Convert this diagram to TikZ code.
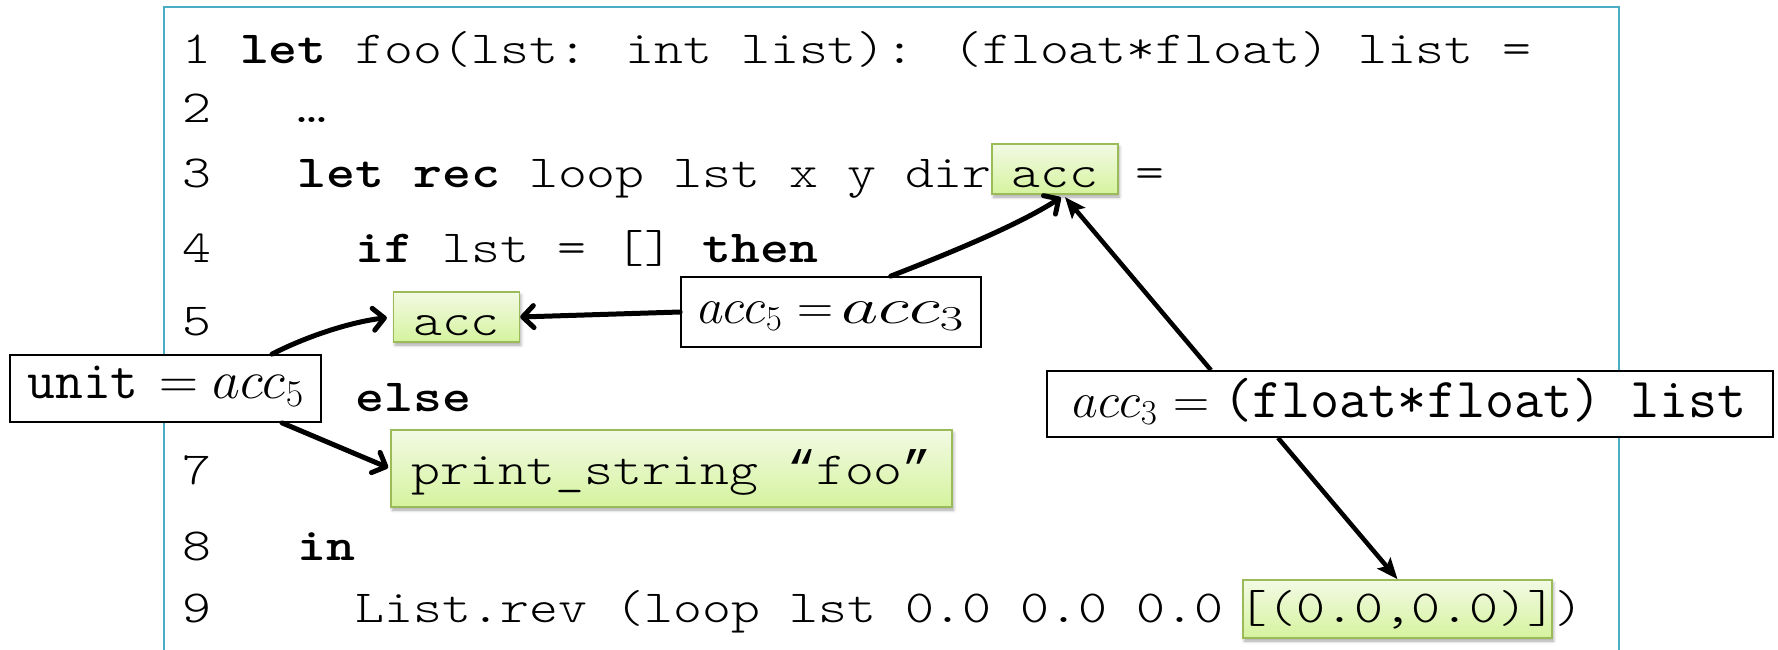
\RequirePackage{fix-cm}
\documentclass[tikz,border=0pt]{standalone}
\usepackage{fontspec}
\usepackage{graphicx}
\newfontfamily\codefont{lmmonolt10-regular.otf}[BoldFont=lmmonolt10-bold.otf, FakeStretch=1.2]
\newfontfamily\quotefont{Liberation Mono}
\usetikzlibrary{arrows.meta,shadows.blur}

\definecolor{framecol}{HTML}{4BACC6}
\definecolor{hlborder}{HTML}{9BBB59}
\definecolor{hltop}{HTML}{F2FAE4}
\definecolor{hlbot}{HTML}{D5F39E}

% column width of the monospaced code font
\def\cw{28.9}
% curly quotes of the same advance width
\newcommand\codeq[1]{{\quotefont\fontsize{48.17}{58}\selectfont #1}}

\begin{document}
\begin{tikzpicture}[x=1pt,y=-1pt,
  code/.style={font=\codefont\fontsize{45.9}{58}\selectfont, anchor=base west, inner sep=0pt},
  hl/.style={font=\codefont\fontsize{45.9}{58}\selectfont, anchor=base,
    draw=hlborder, line width=1.6pt, top color=hltop, bottom color=hlbot,
    inner ysep=0pt, inner xsep=19.5pt,
    blur shadow={shadow xshift=1.5pt, shadow yshift=-3pt, shadow blur radius=3pt, shadow opacity=35}},
  lbl/.style={draw=black, line width=1.7pt, fill=white, inner sep=0pt, anchor=base},
  barb/.style={line width=5pt, line cap=round,
    -{Straight Barb[length=11pt,width=22pt,line cap=round,line join=round]}},
  solidarrow/.style={line width=4.5pt, -{Stealth[length=21pt,width=17pt,inset=4pt]}},
  frame/.style={draw=framecol, line width=2pt}
]
\useasboundingbox (0,0) rectangle (1778,649);
\clip (0,0) rectangle (1778,649);

% listing frame
\draw[frame] (164,7) rectangle (1619,700);

% line numbers
\node[code] (n1) at (182,63)  {1};
\node[code] (n2) at (182,122) {2};
\node[code] (n3) at (182,187) {3};
\node[code] (n4) at (182,262) {4};
\node[code] (n5) at (182,335) {5};
\node[code] (n7) at (182,484) {7};
\node[code] (n8) at (182,560) {8};
\node[code] (n9) at (182,622) {9};

% code text
\node[code] (c1) at ({182+2*\cw},63)  {\textbf{let} foo(lst: int list): (float*float) list =};
\node[code] (c2) at ({182+4*\cw},122) {…};
\node[code] (c3) at ({182+4*\cw},187) {\textbf{let rec} loop lst x y dir};
\node[code] (c3b) at ({182+33*\cw},187) {=};
\node[code] (c4) at ({182+6*\cw},262) {\textbf{if} lst = [] \textbf{then}};
\node[code] (c6) at ({182+6*\cw},411) {\textbf{else}};
\node[code] (c8) at ({182+4*\cw},560) {\textbf{in}};
\node[code] (c9) at ({182+6*\cw},622) {List.rev (loop lst 0.0 0.0 0.0};
\node[code] (c9b) at (1554,622) {)};

% highlighted expressions
\node[hl, text height=43pt, text depth=7pt] (accdef) at (1055,187) {acc};
\node[hl, text height=43pt, text depth=7pt] (accthen) at (456.5,335) {acc};
\node[hl, text height=54pt, text depth=23pt, inner xsep=20.4pt] (prt) at (671.5,484)
  {print\_string \codeq{“}foo\codeq{”}};
\node[hl, text height=42pt, text depth=16pt, inner xsep=-4.5pt] (init) at (1397.5,622) {[(0.0,0.0)]};

% type equations
\node[lbl, minimum width=311pt, text height=43pt, text depth=24pt,
      font=\fontsize{54}{60}\selectfont] (unit) at (165.5,398)
  {\texttt{unit}\hspace{21pt}$=$\hspace{14pt}$acc_5$\hspace{6pt}};
\node[lbl, minimum width=300pt, text height=46pt, text depth=24pt,
      font=\fontsize{50}{60}\selectfont] (eqfive) at (831,323)
  {$acc_5$\hspace{15pt}$=$\hspace{8pt}\scalebox{1.45}[1]{$acc_3$}};
\node[lbl, minimum width=726pt, text height=46pt, text depth=20pt,
      font=\fontsize{50}{60}\selectfont] (eqthree) at (1410,417)
  {$acc_3$\hspace{16pt}$=$\hspace{14pt}{\fontsize{56.5}{62}\selectfont\texttt{(float*float) list}}\hspace{9pt}};

% connectors
\draw[barb] (eqfive.west) -- (accthen.east);
\draw[barb, shorten >=5pt] (eqfive.31.5) .. controls (955,251) and (1020,224) .. ([xshift=10pt]accdef.south);
\draw[solidarrow, shorten >=3pt] ([xshift=-199pt]eqthree.north) -- ([xshift=8pt]accdef.south);
\draw[solidarrow] ([xshift=-132pt]eqthree.south) -- (init.north);
\draw[barb, shorten >=6pt] ([xshift=106.5pt]unit.north) .. controls (305,337) and (350,322) .. (accthen.west);
\draw[barb, shorten >=2pt] ([xshift=116.5pt]unit.south) -- (prt.west);
\end{tikzpicture}
\end{document}
